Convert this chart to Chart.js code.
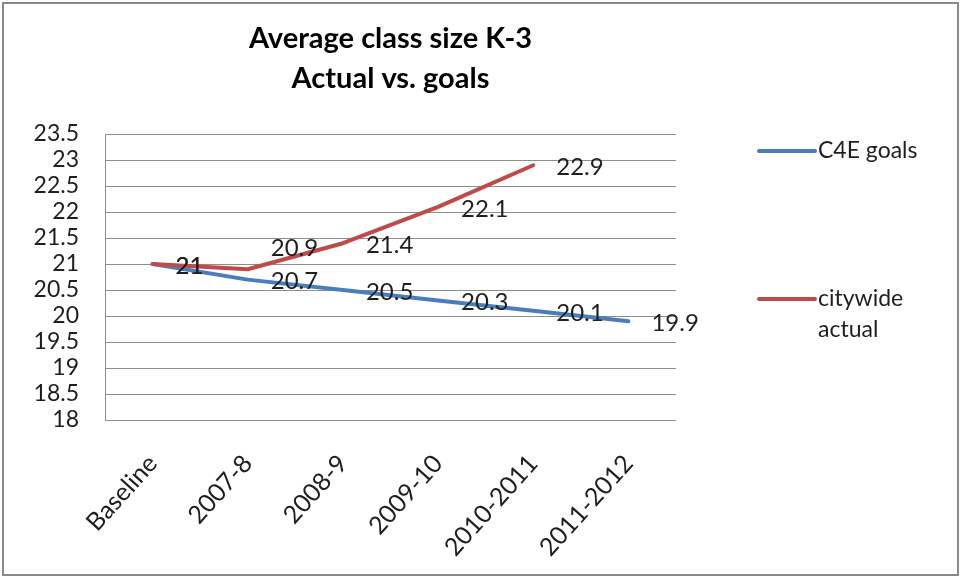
<!DOCTYPE html>
<html>
<head>
<meta charset="utf-8">
<script src="https://cdn.jsdelivr.net/npm/chart.js@4.4.0/dist/chart.umd.min.js"></script>
<style>
  html, body { margin: 0; padding: 0; background: #fff; }
  #wrap { position: relative; width: 963px; height: 578px; }
  #frame { position: absolute; left: 2px; top: 2px; width: 957px; height: 574px;
           border: 2px solid #8a8a8a; box-sizing: border-box; pointer-events: none; }
</style>
</head>
<body>
<div id="wrap">
  <canvas id="chart" width="963" height="578"></canvas>
  <div id="frame"></div>
</div>
<script>
// chart data
const categories = ['Baseline', '2007-8', '2008-9', '2009-10', '2010-2011', '2011-2012'];
const c4eGoals = [21, 20.7, 20.5, 20.3, 20.1, 19.9];
const citywideActual = [21, 20.9, 21.4, 22.1, 22.9, null];
const titleLines = ['Average class size K-3', 'Actual vs. goals'];
const yMin = 18, yMax = 23.5, yStep = 0.5;

const FONT = 'Lato, "Noto Sans", sans-serif';

// the 20.9 label sits above its point in the original (moved to avoid 20.7)
const labelNudge = { 'citywide actual': { 1: -23 } };

// value labels to the right of each point (Excel style)
const valueLabels = {
  id: 'valueLabels',
  afterDatasetsDraw(chart, args, opts) {
    const ctx = chart.ctx;
    ctx.save();
    ctx.font = opts.font;
    ctx.fillStyle = opts.color;
    ctx.textAlign = 'left';
    ctx.textBaseline = 'middle';
    chart.data.datasets.forEach((ds, i) => {
      const meta = chart.getDatasetMeta(i);
      const nudge = labelNudge[ds.label] || {};
      meta.data.forEach((pt, j) => {
        const v = ds.data[j];
        if (v == null) return;
        const dy = nudge[j] || 0;
        ctx.fillText(String(v), pt.x + opts.offsetX, pt.y + opts.offsetY + dy);
      });
    });
    ctx.restore();
  }
};

// legend on the right, items spread out like the original
const sideLegend = {
  id: 'sideLegend',
  afterDraw(chart, args, opts) {
    const ctx = chart.ctx;
    const area = chart.chartArea;
    ctx.save();
    ctx.font = opts.font;
    ctx.textBaseline = 'middle';
    ctx.textAlign = 'left';
    chart.data.datasets.forEach((ds, i) => {
      const y = opts.top + i * opts.spacing;
      const x = area.right + opts.gap;
      ctx.strokeStyle = ds.borderColor;
      ctx.lineWidth = ds.borderWidth;
      ctx.lineCap = 'round';
      ctx.beginPath();
      ctx.moveTo(x, y);
      ctx.lineTo(x + opts.lineLength, y);
      ctx.stroke();
      // wrap the label if it is too wide
      const words = ds.label.split(' ');
      const lines = [];
      let cur = '';
      words.forEach(w => {
        const test = cur ? cur + ' ' + w : w;
        if (cur && ctx.measureText(test).width > opts.maxWidth) {
          lines.push(cur);
          cur = w;
        } else {
          cur = test;
        }
      });
      lines.push(cur);
      ctx.fillStyle = opts.color;
      lines.forEach((ln, k) => {
        ctx.fillText(ln, x + opts.lineLength + 3, y + k * opts.lineHeight);
      });
    });
    ctx.restore();
  }
};

const ctx = document.getElementById('chart').getContext('2d');
const chart = new Chart(ctx, {
  type: 'line',
  data: {
    labels: categories,
    datasets: [{
      label: 'C4E goals',
      data: c4eGoals,
      borderColor: '#4a7ebb',
      borderWidth: 4,
      pointRadius: 0,
      order: 1
    }, {
      label: 'citywide actual',
      data: citywideActual,
      borderColor: '#be4b48',
      borderWidth: 4,
      pointRadius: 0,
      order: 0
    }]
  },
  options: {
    responsive: false,
    animation: false,
    layout: { padding: { top: 0, right: 287, bottom: 0, left: 0 } },
    elements: { line: { tension: 0, borderCapStyle: 'round', borderJoinStyle: 'round' } },
    scales: {
      x: {
        offset: true,
        grid: { display: false },
        border: { display: false },
        ticks: {
          autoSkip: false,
          minRotation: 48,
          maxRotation: 48,
          padding: 21,
          color: '#1e1e1e',
          font: { family: FONT, size: 25 }
        },
        afterFit(scale) { scale.height = 158; }
      },
      y: {
        min: yMin,
        max: yMax,
        grid: { color: '#8e8e8e', lineWidth: 1, drawTicks: false },
        border: { display: true, color: '#8e8e8e', width: 1 },
        ticks: {
          stepSize: yStep,
          autoSkip: false,
          padding: 26,
          color: '#1e1e1e',
          font: { family: FONT, size: 23 },
          callback: v => String(v)
        },
        afterFit(scale) { scale.width = 105; }
      }
    },
    plugins: {
      legend: { display: false },
      tooltip: { enabled: false },
      title: {
        display: true,
        fullSize: false,
        text: titleLines,
        color: '#000',
        font: { family: FONT, size: 29, weight: 'bold', lineHeight: 1.38 },
        padding: { top: 19, bottom: 35 }
      },
      valueLabels: {
        font: '24px ' + FONT,
        color: '#1e1e1e',
        offsetX: 23,
        offsetY: 2
      },
      sideLegend: {
        font: '23px ' + FONT,
        color: '#1e1e1e',
        top: 151,
        spacing: 148,
        gap: 83,
        lineLength: 56,
        lineHeight: 31,
        maxWidth: 130
      }
    }
  },
  plugins: [valueLabels, sideLegend]
});
</script>
</body>
</html>
